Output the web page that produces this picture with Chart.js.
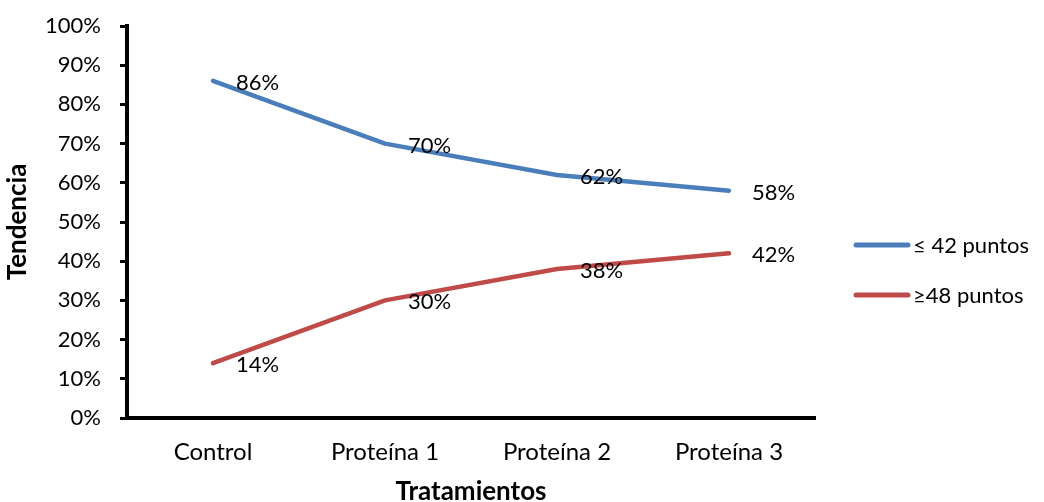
<!DOCTYPE html>
<html>
<head>
<meta charset="utf-8">
<script src="https://cdn.jsdelivr.net/npm/chart.js@4/dist/chart.umd.min.js"></script>
<style>
  html, body { margin: 0; padding: 0; background: #fff; }
  #wrap { width: 1044px; height: 502px; }
</style>
</head>
<body>
<div id="wrap"><canvas id="c" width="1044" height="502"></canvas></div>
<script>
// Treatment groups on the x axis
const categories = ['Control', 'Proteína 1', 'Proteína 2', 'Proteína 3'];
// Share of subjects (%) per score band
const lowScore = [86, 70, 62, 58];   // ≤ 42 puntos
const highScore = [14, 30, 38, 42];  // ≥48 puntos
const seriesNames = ['≤ 42 puntos', '≥48 puntos'];
const yTicks = [0, 10, 20, 30, 40, 50, 60, 70, 80, 90, 100];

const FONT = 'Lato, "Open Sans", sans-serif';
const FS = 22;

// Value labels to the right of each point
const valueLabels = {
  id: 'valueLabels',
  afterDatasetsDraw(chart) {
    const ctx = chart.ctx;
    ctx.save();
    ctx.font = FS + 'px ' + FONT;
    ctx.fillStyle = '#000';
    ctx.textAlign = 'left';
    ctx.textBaseline = 'middle';
    chart.data.datasets.forEach((ds, i) => {
      chart.getDatasetMeta(i).data.forEach((pt, j) => {
        ctx.fillText(ds.data[j] + '%', pt.x + 23, pt.y + 2);
      });
    });
    ctx.restore();
  }
};

// Legend with line samples on the right
const sideLegend = {
  id: 'sideLegend',
  afterDraw(chart) {
    const ctx = chart.ctx;
    ctx.save();
    ctx.font = FS + 'px ' + FONT;
    ctx.textAlign = 'left';
    ctx.textBaseline = 'middle';
    chart.data.datasets.forEach((ds, i) => {
      const y = 245 + i * 50;
      ctx.strokeStyle = ds.borderColor;
      ctx.lineWidth = 5;
      ctx.lineCap = 'round';
      ctx.beginPath();
      ctx.moveTo(856, y);
      ctx.lineTo(908, y);
      ctx.stroke();
      ctx.fillStyle = '#000';
      ctx.fillText(ds.label, 913, y + 1);
    });
    ctx.restore();
  }
};

new Chart(document.getElementById('c'), {
  type: 'line',
  data: {
    labels: categories,
    datasets: [
      { label: seriesNames[0], data: lowScore, borderColor: '#4A7EBB', backgroundColor: '#4A7EBB' },
      { label: seriesNames[1], data: highScore, borderColor: '#BE4B48', backgroundColor: '#BE4B48' }
    ]
  },
  options: {
    responsive: false,
    animation: false,
    devicePixelRatio: 1,
    layout: { padding: { top: 26, right: 229, bottom: 0, left: 0 } },
    elements: {
      line: { borderWidth: 4.5, tension: 0, borderCapStyle: 'round', borderJoinStyle: 'round' },
      point: { radius: 0, hoverRadius: 0 }
    },
    plugins: { legend: { display: false }, tooltip: { enabled: false } },
    scales: {
      x: {
        offset: true,
        grid: { display: false, drawTicks: false },
        border: { display: true, color: '#000', width: 4 },
        ticks: { color: '#000', font: { family: FONT, size: 24 }, padding: 20 },
        title: { display: true, text: 'Tratamientos', color: '#000',
                 font: { family: FONT, size: 26, weight: 'bold', lineHeight: 0.8 }, padding: { top: 0, bottom: 0 } },
        afterFit(scale) { scale.height = 84; }
      },
      y: {
        min: 0, max: 100,
        afterBuildTicks(scale) { scale.ticks = yTicks.map(v => ({ value: v })); },
        grid: { display: true, drawOnChartArea: false, drawTicks: true, tickLength: 7, tickWidth: 3, tickColor: '#000' },
        border: { display: true, color: '#000', width: 4 },
        ticks: { color: '#000', font: { family: FONT, size: FS }, padding: 19, callback: v => v + '%' },
        title: { display: true, text: 'Tendencia', color: '#000',
                 font: { family: FONT, size: 26, weight: 'bold', lineHeight: 1 }, padding: { top: 5, bottom: 0 } },
        afterFit(scale) {
          scale.width = 127;
          scale.paddingTop = 0;
          scale.paddingBottom = 0;
        }
      }
    }
  },
  plugins: [valueLabels, sideLegend]
});
</script>
</body>
</html>
